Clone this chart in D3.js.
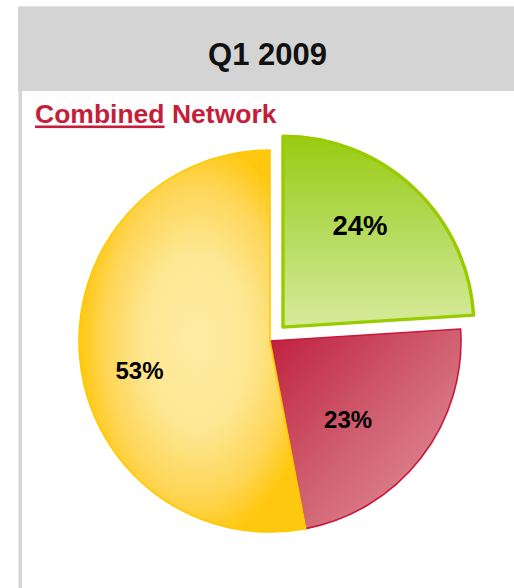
<!DOCTYPE html>
<html>
<head>
<meta charset="utf-8">
<script src="https://cdn.jsdelivr.net/npm/d3@7"></script>
<style>
  html, body { margin: 0; padding: 0; background: #ffffff; }
  svg { display: block; font-family: "Liberation Sans", Arial, sans-serif; }
</style>
</head>
<body>
<svg id="chart" width="514" height="588"></svg>
<script>
// ---- data ----
const title = "Q1 2009";
const subtitleUnderlined = "Combined";
const subtitleRest = " Network";
const categories = ["Green", "Red", "Yellow"];
const values = [24, 23, 53];
const labels = ["24%", "23%", "53%"];
const exploded = [true, false, false];

// ---- layout / style (not data) ----
const W = 514, H = 588;
const cx = 270, cy = 341, R = 191, explodeDist = 19;
const labelAngleShiftDeg = [-6.2, 7.4, -7.1];
const labelRadiusFrac = [0.67, 0.58, 0.70];
const labelFontSize = [27.5, 24, 24];

const svg = d3.select("#chart");
const defs = svg.append("defs");

// panel frame
svg.append("rect").attr("x", 18).attr("y", 6).attr("width", W - 18).attr("height", 85).attr("fill", "#d4d4d4");
svg.append("rect").attr("x", 18).attr("y", 6).attr("width", W - 18).attr("height", 1).attr("fill", "#e4e4e4");
svg.append("rect").attr("x", 18).attr("y", 91).attr("width", 4).attr("height", H - 91).attr("fill", "#d6d6d6");
svg.append("rect").attr("x", 18).attr("y", 91).attr("width", 1).attr("height", H - 91).attr("fill", "#e6e6e6");

// title
svg.append("text").attr("x", 267.5).attr("y", 65).attr("text-anchor", "middle")
  .attr("font-size", 31).attr("font-weight", "bold").attr("fill", "#111").text(title);

// subtitle
const red = "#c41e3a";
const sub = svg.append("text").attr("x", 35).attr("y", 123).attr("font-size", 26.5)
  .attr("font-weight", "bold").attr("fill", red);
sub.append("tspan").text(subtitleUnderlined);
sub.append("tspan").text(subtitleRest);
const underlineLen = sub.node().getSubStringLength(0, subtitleUnderlined.length);
svg.append("rect").attr("x", 35).attr("y", 125.5).attr("width", underlineLen).attr("height", 2.6).attr("fill", red);

// gradients
const gGreen = defs.append("linearGradient").attr("id", "gGreen")
  .attr("x1", 0).attr("y1", 0).attr("x2", 0).attr("y2", 1);
gGreen.append("stop").attr("offset", 0).attr("stop-color", "#99cc11");
gGreen.append("stop").attr("offset", 0.45).attr("stop-color", "#b2d955");
gGreen.append("stop").attr("offset", 1).attr("stop-color", "#d6eb9b");

const gRed = defs.append("linearGradient").attr("id", "gRed")
  .attr("x1", 0).attr("y1", 0).attr("x2", 1).attr("y2", 1);
gRed.append("stop").attr("offset", 0).attr("stop-color", "#bf1e3e");
gRed.append("stop").attr("offset", 0.5).attr("stop-color", "#d0606f");
gRed.append("stop").attr("offset", 1).attr("stop-color", "#e597a3");

const gYel = defs.append("radialGradient").attr("id", "gYel")
  .attr("cx", 0.52).attr("cy", 0.5).attr("r", 0.52);
gYel.append("stop").attr("offset", 0).attr("stop-color", "#feeda4");
gYel.append("stop").attr("offset", 0.45).attr("stop-color", "#fde792");
gYel.append("stop").attr("offset", 0.78).attr("stop-color", "#fed657");
gYel.append("stop").attr("offset", 1).attr("stop-color", "#ffc810");

const fills = ["url(#gGreen)", "url(#gRed)", "url(#gYel)"];
const strokes = ["#99cc00", "#c8193c", "#ffc800"];
const strokeW = [3.4, 1.6, 1.6];

const pie = d3.pie().sort(null).value(d => d.v);
const arcs = pie(values.map((v, i) => ({ v, i, cat: categories[i], label: labels[i] })));
const arc = d3.arc().innerRadius(0).outerRadius(R);

const g = svg.append("g").attr("transform", `translate(${cx},${cy})`);
const slices = g.selectAll("g.slice").data(arcs).join("g").attr("class", "slice")
  .attr("transform", d => {
    if (!exploded[d.data.i]) return null;
    const a = (d.startAngle + d.endAngle) / 2;
    return `translate(${Math.sin(a) * explodeDist},${-Math.cos(a) * explodeDist})`;
  });

slices.append("path")
  .attr("d", arc)
  .attr("fill", d => fills[d.data.i])
  .attr("stroke", d => strokes[d.data.i])
  .attr("stroke-width", d => strokeW[d.data.i])
  .attr("stroke-linejoin", "round");

slices.append("text")
  .attr("transform", d => {
    const i = d.data.i;
    const shift = labelAngleShiftDeg[i] * Math.PI / 180;
    const r = R * labelRadiusFrac[i];
    const la = d3.arc().innerRadius(r).outerRadius(r);
    const c = la.centroid({ startAngle: d.startAngle + shift, endAngle: d.endAngle + shift });
    return `translate(${c})`;
  })
  .attr("text-anchor", "middle").attr("dy", "0.36em")
  .attr("font-size", d => labelFontSize[d.data.i]).attr("font-weight", "bold").attr("fill", "#000")
  .text(d => d.data.label);
</script>
</body>
</html>
